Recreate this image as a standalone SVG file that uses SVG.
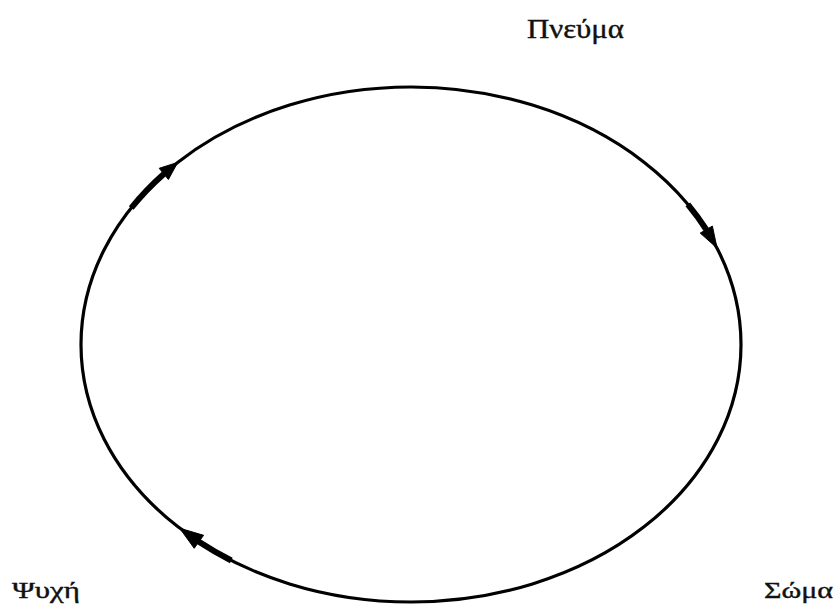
<svg xmlns="http://www.w3.org/2000/svg" width="837" height="611" viewBox="0 0 837 611">
<style>
.lbl{font-family:"Liberation Serif","Times New Roman",serif;fill:#111;stroke:#111;stroke-width:0.4}
.ring{fill:none;stroke:#000;stroke-width:3.2}
.thick{fill:none;stroke:#000;stroke-width:6;stroke-linecap:butt}
.head{fill:#000;stroke:#000;stroke-width:1;stroke-linejoin:miter}
</style>
<rect width="837" height="611" fill="#fff"/>
<g id="ring">
<ellipse class="ring" cx="411" cy="344.5" rx="330" ry="257.5"/>
</g>
<g id="connectors">
<path class="thick" d="M131.2 208.0 A330 257.5 0 0 1 163.8 173.9"/>
<polygon class="head" points="177.7,162.4 168.4,179.5 159.2,168.3"/>
<path class="thick" d="M687.8 204.3 A330 257.5 0 0 1 706.3 229.6"/>
<polygon class="head" points="717.0,248.0 700.2,233.1 712.4,226.1"/>
<path class="thick" d="M231.3 560.5 A330 257.5 0 0 1 198.9 541.8"/>
<polygon class="head" points="179.7,528.2 203.6,535.3 194.2,548.3"/>
</g>
<g id="pneuma"><text class="lbl" x="527" y="38" font-size="28" textLength="97" lengthAdjust="spacingAndGlyphs">Πνεύμα</text></g>
<g id="psyche"><text class="lbl" x="12" y="598" font-size="24" textLength="68" lengthAdjust="spacingAndGlyphs">Ψυχή</text></g>
<g id="soma"><text class="lbl" x="764" y="598" font-size="24" textLength="69" lengthAdjust="spacingAndGlyphs">Σώμα</text></g>
</svg>
